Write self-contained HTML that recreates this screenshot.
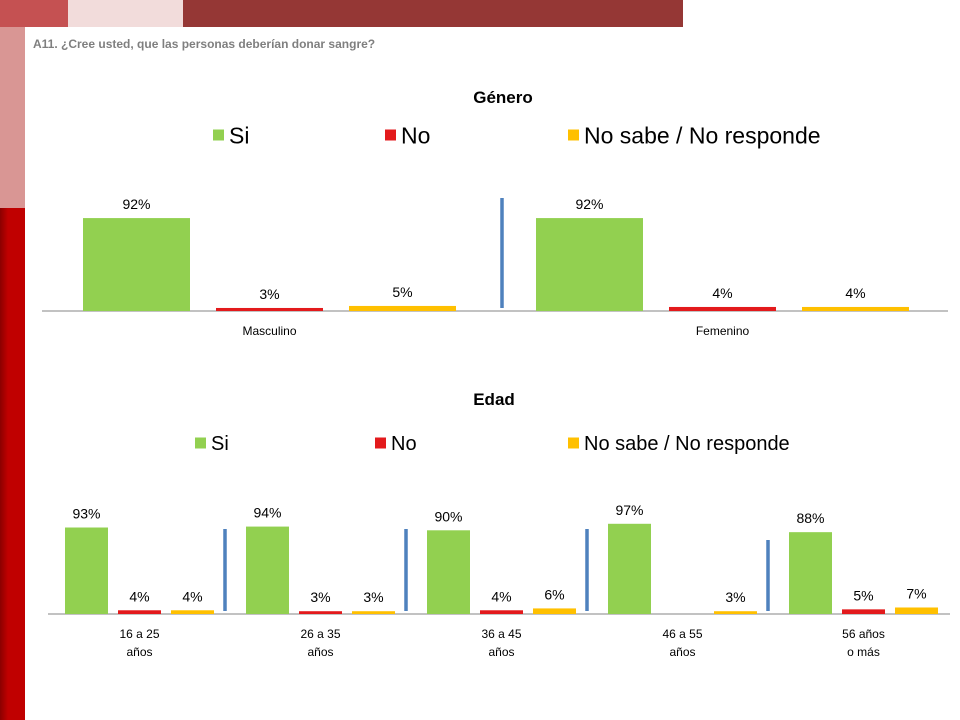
<!DOCTYPE html>
<html><head><meta charset="utf-8"><style>
body{margin:0;width:960px;height:720px;overflow:hidden;background:#fff;font-family:"Liberation Sans",sans-serif;position:relative}
.a{position:absolute}
</style></head><body>
<div class="a" style="left:0;top:0;width:68px;height:27px;background:#c55152"></div>
<div class="a" style="left:68px;top:0;width:115px;height:27px;background:#f2dcdb"></div>
<div class="a" style="left:183px;top:0;width:500px;height:27px;background:#953735"></div>
<div class="a" style="left:0;top:27px;width:25px;height:181px;background:#d99694"></div>
<div class="a" style="left:0;top:208px;width:25px;height:512px;background:linear-gradient(90deg,#8b0000 0,#c00000 8px,#c00000)"></div>
<div class="a" style="left:33px;top:37px;font-size:12px;font-weight:bold;color:#7f7f7f">A11. ¿Cree usted, que las personas deberían donar sangre?</div>
<svg class="a" style="left:0;top:0" width="960" height="720" id="svg"></svg>
<script>
const gCats=["Masculino","Femenino"];
const gSi=[92,92];
const gNo=[3,4];
const gNs=[5,4];
const eCats=[["16 a 25","años"],["26 a 35","años"],["36 a 45","años"],["46 a 55","años"],["56 años","o más"]];
const eSi=[93,94,90,97,88];
const eNo=[4,3,4,0,5];
const eNs=[4,3,6,3,7];
const colors=["#92d050","#e31a1c","#ffc000"];
const legendLabels=["Si","No","No sabe / No responde"];
const svg=document.getElementById('svg');
const NS="http://www.w3.org/2000/svg";
function mk(t,a,txt){const e=document.createElementNS(NS,t);for(const k in a)e.setAttribute(k,a[k]);if(txt!==undefined)e.textContent=txt;svg.appendChild(e);return e;}
function chart(o){
  let t=mk('text',{x:o.titleX,y:o.titleY,'font-size':17,'font-weight':'bold','text-anchor':'middle',fill:'#000'},o.title);
  
  
  o.legX.forEach((lx,i)=>{
    let r=mk('rect',{x:lx,y:o.legY-o.ls/2,width:o.ls,height:o.ls,fill:colors[i]});
    
    
    let tx=mk('text',{x:lx+o.ls+5,y:o.legY+o.lf*0.36,'font-size':o.lf,fill:'#000'},legendLabels[i]);
    
    
  });
  let ax=mk('line',{x1:o.x0,x2:o.x1,y1:o.base,y2:o.base,stroke:'#868686','stroke-width':1});
  
  
  const series=[o.si,o.no,o.ns];
  o.cats.forEach((c,g)=>{
    const gx=o.gStart+g*o.gw;
    series.forEach((s,k)=>{
      const v=s[g];const h=v*o.sc;const x=gx+k*o.step;
      if(v>0){
        let b=mk('rect',{x:x,y:o.base-h,width:o.bw,height:h,fill:colors[k]});
        
        
        let l=mk('text',{x:x+o.bw/2,y:o.base-h-9,'font-size':o.vf,'text-anchor':'middle',fill:'#000'},v+'%');
        
        
      }
    });
    const cx=gx+o.step+o.bw/2;
    const lines=Array.isArray(c)?c:[c];
    lines.forEach((ln,i)=>{
      let ct=mk('text',{x:cx,y:o.base+24+i*18,'font-size':12,'text-anchor':'middle',fill:'#000'},ln);
      
      
    });
    if(g<o.cats.length-1){
      const dx=gx+o.gw-o.divOff;
      const top=o.divTop[g];
      let d=mk('line',{x1:dx,x2:dx,y1:top,y2:o.base-3,stroke:'#4f81bd','stroke-width':3.5});
      
      
    }
  });
}
chart({key:'genero',title:'Género',titleX:503,titleY:103,legX:[213,385,568],legY:135,ls:11,lf:23,
  x0:42,x1:948,base:311,cats:gCats,si:gSi,no:gNo,ns:gNs,gStart:83,gw:453,step:133,bw:107,sc:1.01,vf:14,divOff:34,divTop:[198]});
chart({key:'edad',title:'Edad',titleX:494,titleY:405,legX:[195,375,568],legY:443,ls:11,lf:20,
  x0:48,x1:950,base:614,cats:eCats,si:eSi,no:eNo,ns:eNs,gStart:65,gw:181,step:53,bw:43,sc:0.93,vf:14,divOff:21,divTop:[529,529,529,540]});
</script>
</body></html>
